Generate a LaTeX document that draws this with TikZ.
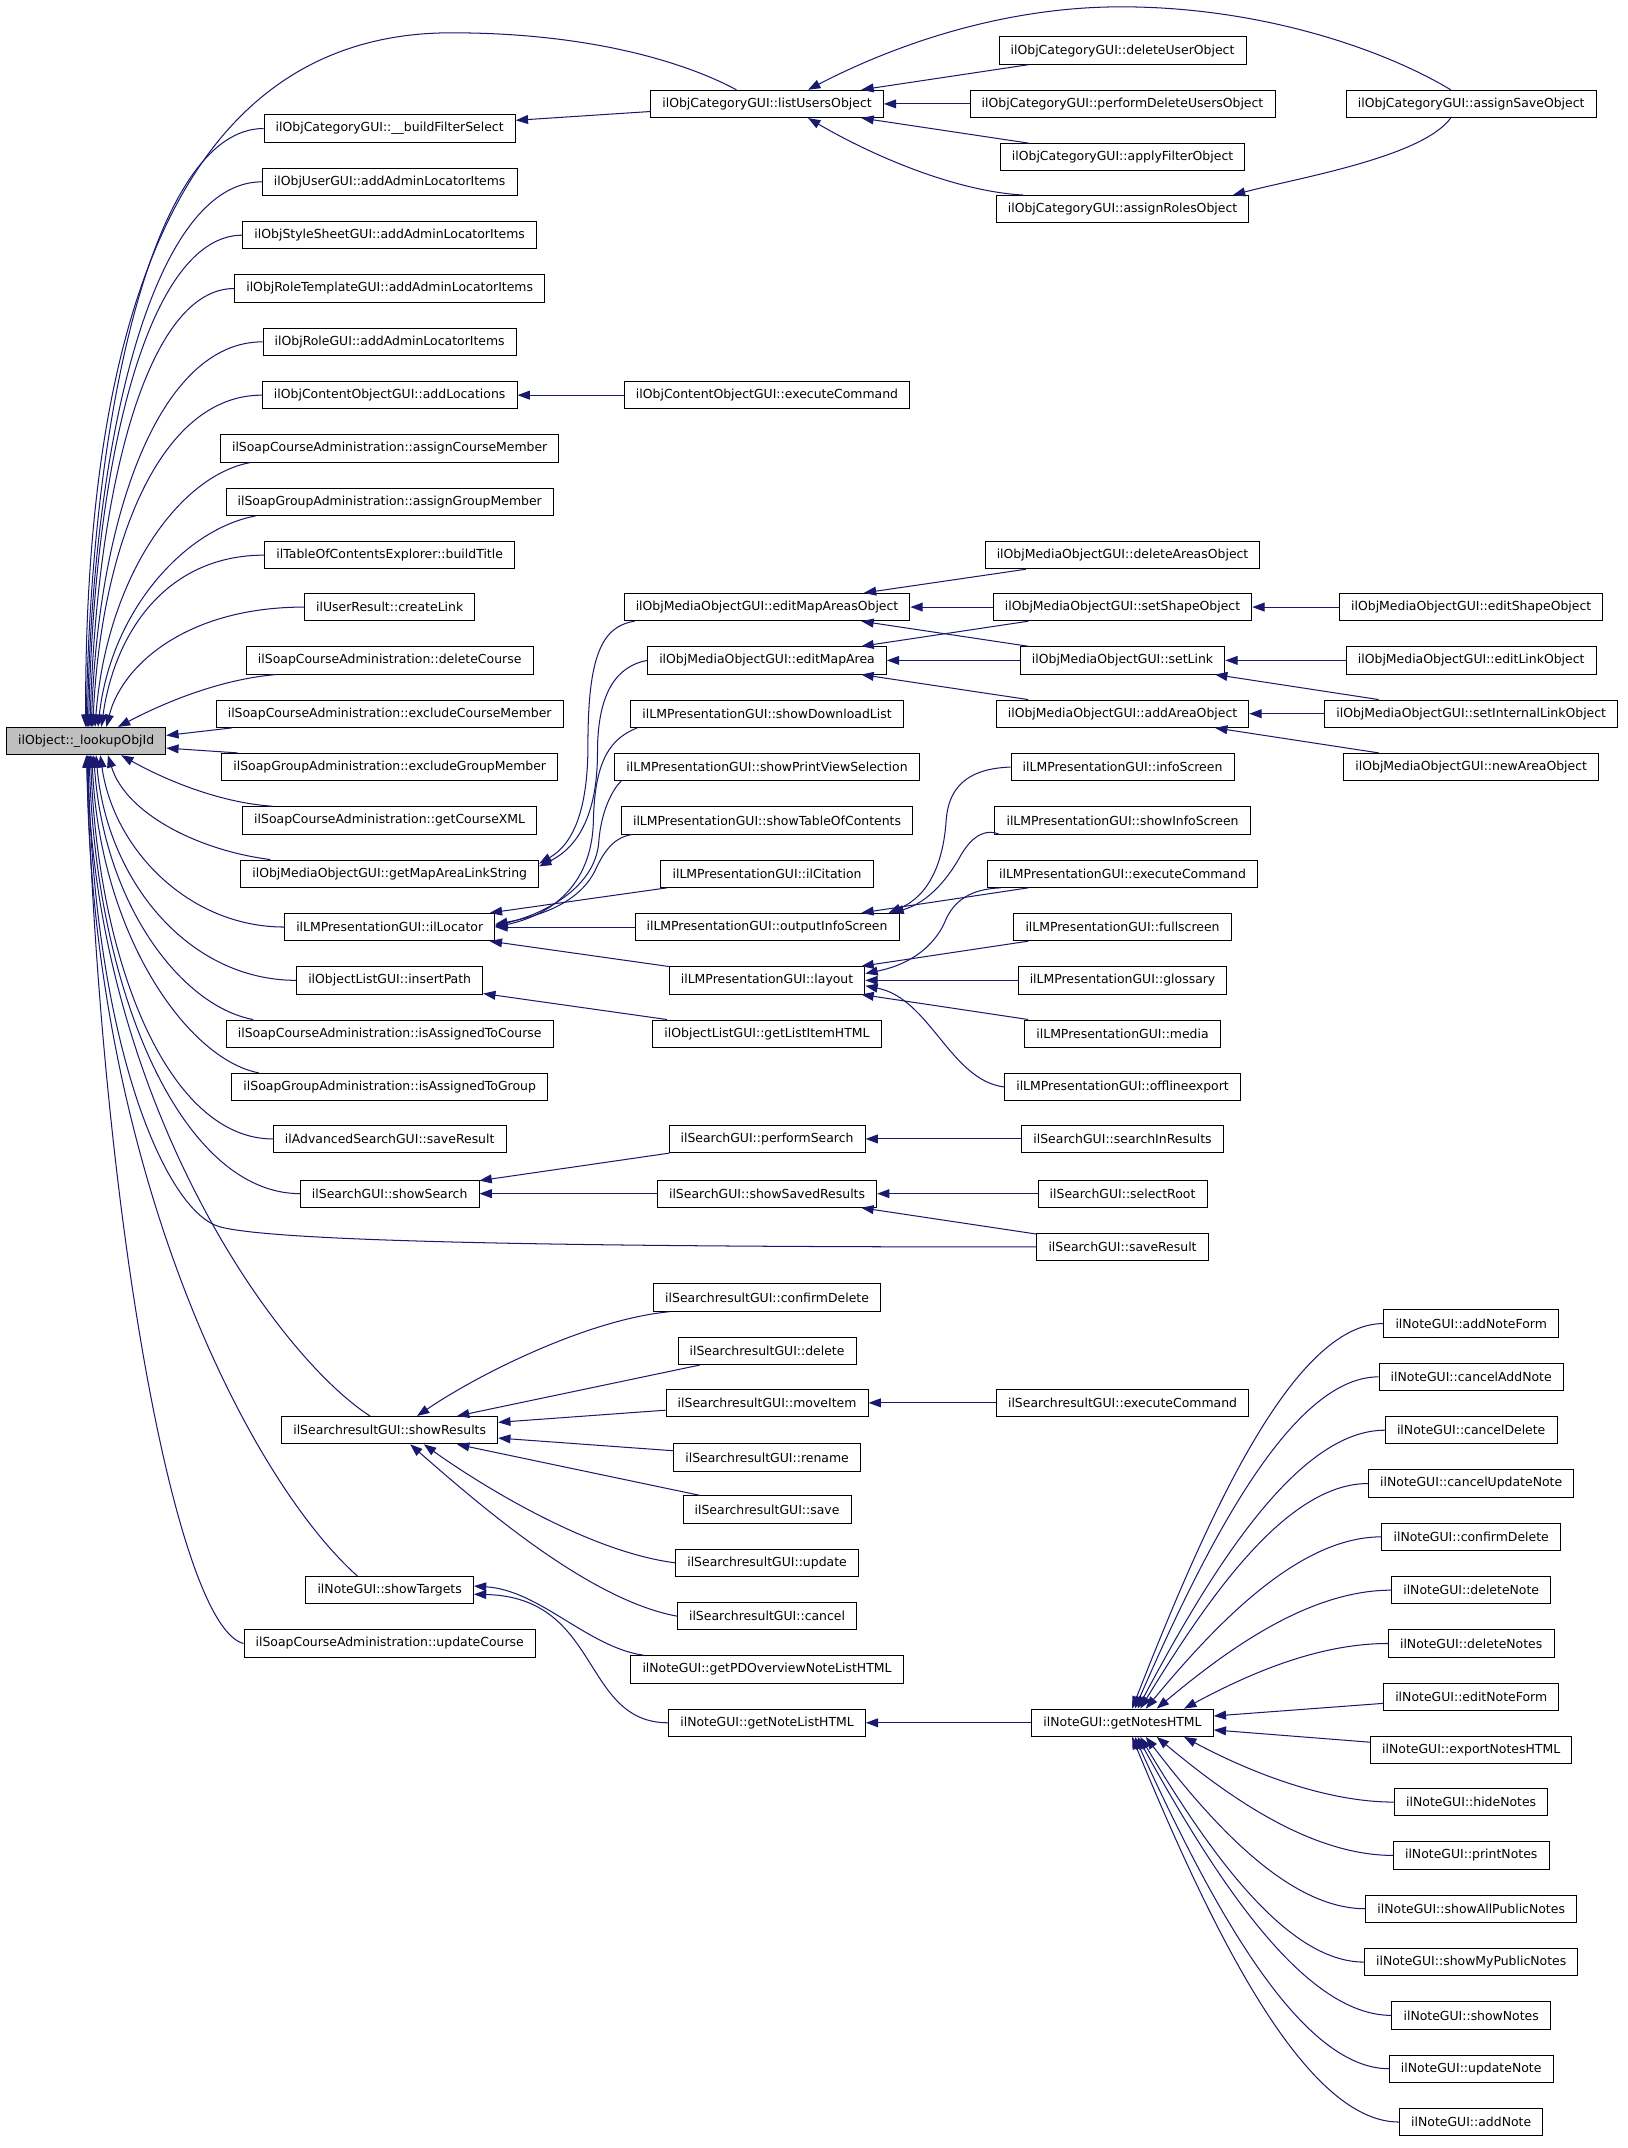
\documentclass[tikz,border=0pt]{standalone}
\usepackage{fontspec}
\setmainfont{DejaVu Sans}
\usepackage{xcolor}
\usetikzlibrary{arrows.meta}
\definecolor{callblue}{HTML}{191970}

\begin{document}
\begin{tikzpicture}[x=1pt,y=-1pt,>={Triangle[length=9pt,width=6.5pt]}]
    \tikzstyle{fn}=[draw=black, rectangle, line width=0.7pt, inner xsep=8.5pt, inner ysep=0pt, minimum height=20pt, font=\fontsize{9.1}{11}\selectfont]
    \tikzstyle{call}=[<-, draw=callblue, line width=0.75pt]
    \useasboundingbox (0,0) rectangle (1190,1571);

    % root
    \node[fn, fill=gray!50] (root) at (63,542) {ilObject::\_lookupObjId};

    % first column
    \node[fn] (bfs) at (285,94) {ilObjCategoryGUI::\_\_buildFilterSelect};
    \node[fn] (usrLoc) at (285,133) {ilObjUserGUI::addAdminLocatorItems};
    \node[fn] (styLoc) at (285,172) {ilObjStyleSheetGUI::addAdminLocatorItems};
    \node[fn] (rtLoc) at (285,211) {ilObjRoleTemplateGUI::addAdminLocatorItems};
    \node[fn] (roleLoc) at (285,250) {ilObjRoleGUI::addAdminLocatorItems};
    \node[fn] (addLoc) at (285,289) {ilObjContentObjectGUI::addLocations};
    \node[fn] (asgCM) at (285,328) {ilSoapCourseAdministration::assignCourseMember};
    \node[fn] (asgGM) at (285,367) {ilSoapGroupAdministration::assignGroupMember};
    \node[fn] (bTitle) at (285,406) {ilTableOfContentsExplorer::buildTitle};
    \node[fn] (cLink) at (285,444) {ilUserResult::createLink};
    \node[fn] (delC) at (285,483) {ilSoapCourseAdministration::deleteCourse};
    \node[fn] (exCM) at (285,522) {ilSoapCourseAdministration::excludeCourseMember};
    \node[fn] (exGM) at (285,561) {ilSoapGroupAdministration::excludeGroupMember};
    \node[fn] (getXML) at (285,600) {ilSoapCourseAdministration::getCourseXML};
    \node[fn] (mapLink) at (285,639) {ilObjMediaObjectGUI::getMapAreaLinkString};
    \node[fn] (loc) at (285,678) {ilLMPresentationGUI::ilLocator};
    \node[fn] (insPath) at (285,717) {ilObjectListGUI::insertPath};
    \node[fn] (isAC) at (285,756) {ilSoapCourseAdministration::isAssignedToCourse};
    \node[fn] (isAG) at (285,795) {ilSoapGroupAdministration::isAssignedToGroup};
    \node[fn] (advSave) at (285,833) {ilAdvancedSearchGUI::saveResult};
    \node[fn] (showSearch) at (285,873) {ilSearchGUI::showSearch};
    \node[fn] (showRes) at (285,1046) {ilSearchresultGUI::showResults};
    \node[fn] (showTgt) at (285,1163) {ilNoteGUI::showTargets};
    \node[fn] (updC) at (285,1202) {ilSoapCourseAdministration::updateCourse};

    % second column
    \node[fn] (listUsers) at (561,76) {ilObjCategoryGUI::listUsersObject};
    \node[fn] (coExec) at (561,289) {ilObjContentObjectGUI::executeCommand};
    \node[fn] (editAreas) at (561,444) {ilObjMediaObjectGUI::editMapAreasObject};
    \node[fn] (editArea) at (561,483) {ilObjMediaObjectGUI::editMapArea};
    \node[fn] (showDL) at (561,522) {ilLMPresentationGUI::showDownloadList};
    \node[fn] (showPV) at (561,561) {ilLMPresentationGUI::showPrintViewSelection};
    \node[fn] (showTOC) at (561,600) {ilLMPresentationGUI::showTableOfContents};
    \node[fn] (citation) at (561,639) {ilLMPresentationGUI::ilCitation};
    \node[fn] (outInfo) at (561,678) {ilLMPresentationGUI::outputInfoScreen};
    \node[fn] (layout) at (561,717) {ilLMPresentationGUI::layout};
    \node[fn] (listItem) at (561,756) {ilObjectListGUI::getListItemHTML};
    \node[fn] (perfSearch) at (561,833) {ilSearchGUI::performSearch};
    \node[fn] (showSaved) at (561,873) {ilSearchGUI::showSavedResults};
    \node[fn] (srConfirm) at (561,949) {ilSearchresultGUI::confirmDelete};
    \node[fn] (srDelete) at (561,988) {ilSearchresultGUI::delete};
    \node[fn] (srMove) at (561,1026) {ilSearchresultGUI::moveItem};
    \node[fn] (srRename) at (561,1066) {ilSearchresultGUI::rename};
    \node[fn] (srSave) at (561,1104) {ilSearchresultGUI::save};
    \node[fn] (srUpdate) at (561,1143) {ilSearchresultGUI::update};
    \node[fn] (srCancel) at (561,1182) {ilSearchresultGUI::cancel};
    \node[fn] (pdList) at (561,1221) {ilNoteGUI::getPDOverviewNoteListHTML};
    \node[fn] (noteList) at (561,1260) {ilNoteGUI::getNoteListHTML};

    % third column
    \node[fn] (delUser) at (821,37) {ilObjCategoryGUI::deleteUserObject};
    \node[fn] (perfDel) at (821,76) {ilObjCategoryGUI::performDeleteUsersObject};
    \node[fn] (applyFilter) at (821,115) {ilObjCategoryGUI::applyFilterObject};
    \node[fn] (assignRoles) at (821,153) {ilObjCategoryGUI::assignRolesObject};
    \node[fn] (delAreas) at (821,406) {ilObjMediaObjectGUI::deleteAreasObject};
    \node[fn] (setShape) at (821,444) {ilObjMediaObjectGUI::setShapeObject};
    \node[fn] (setLink) at (821,483) {ilObjMediaObjectGUI::setLink};
    \node[fn] (addArea) at (821,522) {ilObjMediaObjectGUI::addAreaObject};
    \node[fn] (infoScr) at (821,561) {ilLMPresentationGUI::infoScreen};
    \node[fn] (showInfo) at (821,600) {ilLMPresentationGUI::showInfoScreen};
    \node[fn] (lmExec) at (821,639) {ilLMPresentationGUI::executeCommand};
    \node[fn] (fullscr) at (821,678) {ilLMPresentationGUI::fullscreen};
    \node[fn] (glossary) at (821,717) {ilLMPresentationGUI::glossary};
    \node[fn] (media) at (821,756) {ilLMPresentationGUI::media};
    \node[fn] (offline) at (821,795) {ilLMPresentationGUI::offlineexport};
    \node[fn] (searchIn) at (821,833) {ilSearchGUI::searchInResults};
    \node[fn] (selRoot) at (821,873) {ilSearchGUI::selectRoot};
    \node[fn] (saveRes) at (821,912) {ilSearchGUI::saveResult};
    \node[fn] (srExec) at (821,1026) {ilSearchresultGUI::executeCommand};
    \node[fn] (notesHTML) at (821,1260) {ilNoteGUI::getNotesHTML};

    % fourth column
    \node[fn] (assignSave) at (1076,76) {ilObjCategoryGUI::assignSaveObject};
    \node[fn] (editShape) at (1076,444) {ilObjMediaObjectGUI::editShapeObject};
    \node[fn] (editLink) at (1076,483) {ilObjMediaObjectGUI::editLinkObject};
    \node[fn] (setIntLink) at (1076,522) {ilObjMediaObjectGUI::setInternalLinkObject};
    \node[fn] (newArea) at (1076,561) {ilObjMediaObjectGUI::newAreaObject};
    \node[fn] (nAddForm) at (1076,968) {ilNoteGUI::addNoteForm};
    \node[fn] (nCancelAdd) at (1076,1007) {ilNoteGUI::cancelAddNote};
    \node[fn] (nCancelDel) at (1076,1046) {ilNoteGUI::cancelDelete};
    \node[fn] (nCancelUpd) at (1076,1085) {ilNoteGUI::cancelUpdateNote};
    \node[fn] (nConfirm) at (1076,1124) {ilNoteGUI::confirmDelete};
    \node[fn] (nDelete) at (1076,1163) {ilNoteGUI::deleteNote};
    \node[fn] (nDeletes) at (1076,1202) {ilNoteGUI::deleteNotes};
    \node[fn] (nEditForm) at (1076,1241) {ilNoteGUI::editNoteForm};
    \node[fn] (nExport) at (1076,1280) {ilNoteGUI::exportNotesHTML};
    \node[fn] (nHide) at (1076,1318) {ilNoteGUI::hideNotes};
    \node[fn] (nPrint) at (1076,1357) {ilNoteGUI::printNotes};
    \node[fn] (nAllPub) at (1076,1396) {ilNoteGUI::showAllPublicNotes};
    \node[fn] (nMyPub) at (1076,1435) {ilNoteGUI::showMyPublicNotes};
    \node[fn] (nShow) at (1076,1474) {ilNoteGUI::showNotes};
    \node[fn] (nUpdate) at (1076,1513) {ilNoteGUI::updateNote};
    \node[fn] (nAdd) at (1076,1552) {ilNoteGUI::addNote};

    % callers of the root
    \draw[call] (root.92) .. controls (62,280) and (110,24) .. (330,24) .. controls (430,24) and (500,45) .. ([xshift=63pt]listUsers.north west);
    \draw[call] (root.90) .. controls (67,292) and (115,94) .. (bfs.west);
    \draw[call] (root.85) .. controls (68,312) and (114,133) .. (usrLoc.west);
    \draw[call] (root.80) .. controls (69,333) and (109,172) .. (styLoc.west);
    \draw[call] (root.75) .. controls (71,355) and (108,211) .. (rtLoc.west);
    \draw[call] (root.70) .. controls (72,376) and (117,250) .. (roleLoc.west);
    \draw[call] (root.65) .. controls (74,398) and (117,289) .. (addLoc.west);
    \draw[call] (root.58) .. controls (78,422) and (131,348) .. ([xshift=22pt]asgCM.south west);
    \draw[call] (root.50) .. controls (81,447) and (135,387) .. ([xshift=22pt]asgGM.south west);
    \draw[call] (root.43) .. controls (84,462) and (122,406) .. (bTitle.west);
    \draw[call] (root.35) .. controls (89,487) and (136,444) .. (cLink.west);
    \draw[call] (root.24) .. controls (120,514) and (160,497) .. ([xshift=22pt]delC.south west);
    \draw[call] (root.4) -- ([xshift=12pt]exCM.south west);
    \draw[call] (root.-5) -- ([xshift=12pt]exGM.north west);
    \draw[call] (root.-22) .. controls (120,570) and (160,587) .. ([xshift=22pt]getXML.north west);
    \draw[call] (root.-33) .. controls (92,595) and (145,622) .. ([xshift=22pt]mapLink.north west);
    \draw[call] (root.-45) .. controls (83,621) and (138,678) .. (loc.west);
    \draw[call] (root.-55) .. controls (78,643) and (137,717) .. (insPath.west);
    \draw[call] (root.-62) .. controls (76,662) and (133,736) .. ([xshift=20pt]isAC.north west);
    \draw[call] (root.-68) .. controls (73,685) and (138,775) .. ([xshift=20pt]isAG.north west);
    \draw[call] (root.-73) .. controls (72,707) and (124,833) .. (advSave.west);
    \draw[call] (root.-78) .. controls (70,728) and (134,873) .. (showSearch.west);
    \draw[call] (root.-82) .. controls (68,760) and (120,885) .. (160,897) .. controls (200,909) and (450,912) .. (saveRes.west);
    \draw[call] (root.-85) .. controls (69,802) and (200,990) .. ([xshift=65pt]showRes.north west);
    \draw[call] (root.-87) .. controls (67,852) and (180,1080) .. ([xshift=38pt]showTgt.north west);
    \draw[call] (root.-89) .. controls (75,900) and (130,1190) .. (updC.west);

    % category
    \draw[call] (bfs) -- (listUsers);
    \draw[call] (listUsers) -- (delUser);
    \draw[call] (listUsers) -- (perfDel);
    \draw[call] (listUsers) -- (applyFilter);
    \draw[call] ([xshift=30pt]listUsers.south) .. controls (640,115) and (700,140) .. ([xshift=20pt]assignRoles.north west);
    \draw[call] ([xshift=30pt]listUsers.north) .. controls (650,35) and (730,5) .. (820,5) .. controls (920,5) and (1010,35) .. ([xshift=-15pt]assignSave.north);
    \draw[call] ([xshift=-12pt]assignRoles.north east) .. controls (950,130) and (1040,115) .. ([xshift=-15pt]assignSave.south);
    \draw[call] (addLoc) -- (coExec);

    % media objects
    \draw[call] ([yshift=-3pt]mapLink.north east) .. controls (418,618) and (430,595) .. (430,545) .. controls (430,480) and (440,458) .. ([xshift=8pt]editAreas.south west);
    \draw[call] ([yshift=-5pt]mapLink.north east) .. controls (422,620) and (437,597) .. (437,550) .. controls (437,505) and (452,487) .. (editArea.west);
    \draw[call] (editAreas) -- (delAreas);
    \draw[call] (editAreas) -- (setShape);
    \draw[call] (editAreas) -- (setLink);
    \draw[call] (editArea) -- (setShape);
    \draw[call] (editArea) -- (setLink);
    \draw[call] (editArea) -- (addArea);
    \draw[call] (setShape) -- (editShape);
    \draw[call] (setLink) -- (editLink);
    \draw[call] (setLink) -- (setIntLink);
    \draw[call] (addArea) -- (setIntLink);
    \draw[call] (addArea) -- (newArea);

    % LM presentation
    \draw[call] (loc.east) .. controls (400,670) and (433,650) .. (434,600) .. controls (435,555) and (447,540) .. ([xshift=5pt]showDL.south west);
    \draw[call] ([yshift=1pt]loc.east) .. controls (400,668) and (436,648) .. (438,615) .. controls (440,590) and (450,575) .. ([xshift=5pt]showPV.south west);
    \draw[call] ([yshift=2pt]loc.east) .. controls (395,670) and (425,660) .. (436,635) .. controls (444,618) and (452,612) .. ([xshift=8pt]showTOC.south west);
    \draw[call] (loc) -- (citation);
    \draw[call] (loc) -- (outInfo);
    \draw[call] (loc) -- (layout);
    \draw[call] ([xshift=-8pt]outInfo.north east) .. controls (680,655) and (690,630) .. (692,600) .. controls (694,572) and (712,562) .. (infoScr.west);
    \draw[call] ([xshift=-6pt]outInfo.north east) .. controls (680,660) and (695,640) .. (703,625) .. controls (712,610) and (722,606) .. ([xshift=4pt]showInfo.south west);
    \draw[call] (outInfo) -- (lmExec);
    \draw[call] ([yshift=5pt]layout.east) .. controls (668,705) and (685,690) .. (692,672) .. controls (700,655) and (715,650) .. ([xshift=10pt]lmExec.south west);
    \draw[call] (layout) -- (fullscr);
    \draw[call] (layout) -- (glossary);
    \draw[call] (layout) -- (media);
    \draw[call] ([yshift=-4pt]layout.east) .. controls (680,730) and (695,790) .. (offline.west);
    \draw[call] (insPath) -- (listItem);

    % search
    \draw[call] (showSearch) -- (perfSearch);
    \draw[call] (showSearch) -- (showSaved);
    \draw[call] (perfSearch) -- (searchIn);
    \draw[call] (showSaved) -- (selRoot);
    \draw[call] (showSaved) -- (saveRes);
    \draw[call] ([xshift=20pt]showRes.north) .. controls (350,1005) and (430,965) .. ([xshift=12pt]srConfirm.south west);
    \draw[call] (showRes) -- (srDelete);
    \draw[call] (showRes) -- (srMove);
    \draw[call] (showRes) -- (srRename);
    \draw[call] (showRes) -- (srSave);
    \draw[call] ([xshift=25pt]showRes.south) .. controls (350,1085) and (430,1135) .. (srUpdate.west);
    \draw[call] ([xshift=15pt]showRes.south) .. controls (350,1100) and (430,1170) .. (srCancel.west);
    \draw[call] (srMove) -- (srExec);

    % notes
    \draw[call] ([yshift=3pt]showTgt.east) .. controls (395,1163) and (430,1205) .. ([xshift=10pt]pdList.north west);
    \draw[call] ([yshift=-3pt]showTgt.east) .. controls (440,1168) and (425,1260) .. (noteList.west);
    \draw[call] (noteList) -- (notesHTML);
    \draw[call] ([xshift=7pt]notesHTML.north) .. controls (883,1109) and (946,968) .. (nAddForm.west);
    \draw[call] ([xshift=9pt]notesHTML.north) .. controls (883,1128) and (945,1007) .. (nCancelAdd.west);
    \draw[call] ([xshift=11pt]notesHTML.north) .. controls (886,1148) and (949,1046) .. (nCancelDel.west);
    \draw[call] ([xshift=13pt]notesHTML.north) .. controls (884,1168) and (941,1085) .. (nCancelUpd.west);
    \draw[call] ([xshift=17pt]notesHTML.north) .. controls (890,1187) and (950,1124) .. (nConfirm.west);
    \draw[call] ([xshift=25pt]notesHTML.north) .. controls (897,1207) and (957,1163) .. (nDelete.west);
    \draw[call] ([xshift=45pt]notesHTML.north) .. controls (910,1226) and (962,1202) .. (nDeletes.west);
    \draw[call] (notesHTML) -- (nEditForm);
    \draw[call] (notesHTML) -- (nExport);
    \draw[call] ([xshift=45pt]notesHTML.south) .. controls (910,1294) and (967,1318) .. (nHide.west);
    \draw[call] ([xshift=25pt]notesHTML.south) .. controls (897,1313) and (958,1357) .. (nPrint.west);
    \draw[call] ([xshift=17pt]notesHTML.south) .. controls (886,1333) and (942,1396) .. (nAllPub.west);
    \draw[call] ([xshift=13pt]notesHTML.south) .. controls (883,1352) and (940,1435) .. (nMyPub.west);
    \draw[call] ([xshift=11pt]notesHTML.south) .. controls (888,1372) and (953,1474) .. (nShow.west);
    \draw[call] ([xshift=9pt]notesHTML.south) .. controls (885,1391) and (950,1513) .. (nUpdate.west);
    \draw[call] ([xshift=7pt]notesHTML.south) .. controls (886,1411) and (954,1552) .. (nAdd.west);
\end{tikzpicture}
\end{document}
